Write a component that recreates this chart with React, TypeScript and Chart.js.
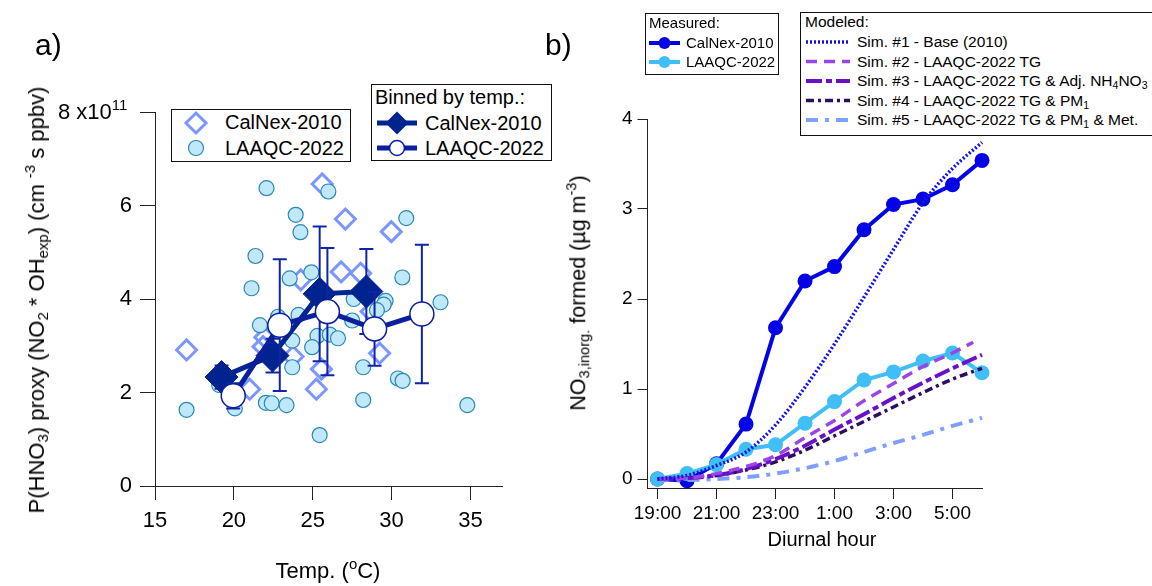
import React, { useEffect, useRef } from "react";
import { Chart, registerables } from "chart.js";

Chart.register(...registerables);

const FONT = '"Liberation Sans", Arial, Helvetica, sans-serif';

// ---------------- Panel a) data ----------------
const tempTicks = [15, 20, 25, 30, 35];
const proxyTicks = [0, 2, 4, 6, 8];

// LAAQC-2022 individual points (temp °C, proxy x1e11)
const laaqcTemp = [22.07, 25.99, 23.92, 30.93, 24.22, 21.37, 30.68, 24.91, 23.54, 21.12, 33.1, 29.62, 29.5, 27.6, 29.07, 24.1, 22.8, 21.65, 27.5, 25.3, 26.08, 26.6, 23.7, 24.96, 23.7, 28.2, 30.4, 30.7, 17.0, 20.06, 22.03, 22.4, 23.34, 28.2, 34.8, 25.44, 19.07];
const laaqcProxy = [6.37, 6.3, 5.8, 5.73, 5.43, 4.92, 4.46, 4.57, 4.44, 4.23, 3.93, 3.96, 3.88, 4.0, 3.76, 3.66, 3.62, 3.44, 3.54, 3.21, 3.24, 3.16, 3.11, 2.97, 2.54, 2.54, 2.3, 2.25, 1.63, 1.66, 1.78, 1.77, 1.73, 1.84, 1.73, 1.09, 2.16];

// CalNex-2010 individual points
const calnexTemp = [25.6, 27.07, 29.98, 26.8, 28.04, 24.24, 17.0, 21.96, 21.85, 23.75, 29.24, 25.55, 25.23, 21.0, 28.7];
const calnexProxy = [6.46, 5.71, 5.44, 4.58, 4.55, 4.41, 2.91, 3.18, 2.98, 2.77, 2.84, 2.5, 2.07, 2.07, 3.73];

// Binned by temperature
const binCalnexTemp = [19.22, 22.45, 25.44, 28.4];
const binCalnexProxy = [2.33, 2.79, 4.11, 4.16];
const binCalnexErr = [0.25, 0.36, 1.44, 0.91];
const binLaaqcTemp = [19.96, 22.91, 25.93, 28.92, 31.92];
const binLaaqcProxy = [1.93, 3.44, 3.73, 3.36, 3.68];
const binLaaqcErr = [0.27, 1.41, 1.36, 0.79, 1.48];

// ---------------- Panel b) data ----------------
const hours = [19, 20, 21, 22, 23, 24, 25, 26, 27, 28, 29, 30];
const hourTicks = [19, 21, 23, 25, 27, 29];
const hourTickLabels = ["19:00", "21:00", "23:00", "1:00", "3:00", "5:00"];
const no3Ticks = [0, 1, 2, 3, 4];

const calnexNO3 = [0, -0.02, 0.17, 0.61, 1.68, 2.2, 2.36, 2.77, 3.05, 3.11, 3.27, 3.54];
const laaqcNO3 = [0, 0.06, 0.16, 0.33, 0.38, 0.62, 0.86, 1.1, 1.19, 1.31, 1.4, 1.18];
const sim1NO3 = [0, 0.04, 0.15, 0.3, 0.6, 1.02, 1.5, 2.02, 2.55, 3.07, 3.45, 3.74];
const sim2Hours = [19, 20, 21, 22, 23, 24, 25, 26, 27, 28, 29, 29.7];
const sim2NO3 = [0, 0.01, 0.06, 0.14, 0.26, 0.46, 0.65, 0.87, 1.06, 1.25, 1.4, 1.52];
const sim3NO3 = [0, 0.01, 0.04, 0.11, 0.22, 0.37, 0.55, 0.72, 0.9, 1.07, 1.23, 1.38];
const sim4NO3 = [0, 0.01, 0.04, 0.1, 0.19, 0.32, 0.48, 0.64, 0.8, 0.96, 1.11, 1.23];
const sim5NO3 = [0, -0.01, 0, 0.02, 0.06, 0.12, 0.2, 0.3, 0.4, 0.49, 0.59, 0.68];

// ---------------- styles ----------------
const C_CALNEX_PT = "#7C96FF";
const C_LAAQC_FILL = "#BFE8FA";
const C_LAAQC_EDGE = "#2A88B2";
const C_BIN_CALNEX = "#00248F";
const C_BIN_LAAQC = "#0A1E9E";
const C_MEAS_CALNEX = "#0303E6";
const C_MEAS_LAAQC = "#40BFF7";
const SIMS = [
  { c: "#1515E0", w: 3.5, dash: [2, 2] },
  { c: "#9A45E6", w: 3.5, dash: [11, 7] },
  { c: "#6A10C8", w: 4, dash: [16, 4, 6, 4] },
  { c: "#2E0D60", w: 3.5, dash: [8, 4, 3, 4] },
  { c: "#7F9FFF", w: 4, dash: [12, 7, 4, 7] },
];

const pts = (xs: number[], ys: number[]) => xs.map((x, i) => ({ x, y: ys[i] }));

const errorBarPlugin = {
  id: "errbars",
  beforeDatasetDraw(chart: any, args: any) {
    const ds = chart.data.datasets[args.index];
    if (!ds.errors) return;
    const ctx = chart.ctx;
    const xs = chart.scales.x;
    const ys = chart.scales.y;
    ctx.save();
    ctx.strokeStyle = ds.errorColor;
    ctx.lineWidth = 2;
    ds.data.forEach((p: any, i: number) => {
      const e = ds.errors[i];
      if (!e) return;
      const x = xs.getPixelForValue(p.x);
      const y1 = ys.getPixelForValue(p.y + e);
      const y2 = ys.getPixelForValue(p.y - e);
      ctx.beginPath();
      ctx.moveTo(x, y1);
      ctx.lineTo(x, y2);
      ctx.moveTo(x - 7, y1);
      ctx.lineTo(x + 7, y1);
      ctx.moveTo(x - 7, y2);
      ctx.lineTo(x + 7, y2);
      ctx.stroke();
    });
    ctx.restore();
  },
};

function axis(min: number, max: number, ticks: number[], labelFn: (v: number) => string, o: any) {
  return {
    type: "linear",
    min,
    max,
    afterBuildTicks: (s: any) => {
      s.ticks = ticks.map((v) => ({ value: v }));
    },
    afterFit: (s: any) => {
      if (o.width !== undefined) s.width = o.width;
      if (o.height !== undefined) s.height = o.height;
    },
    grid: { drawOnChartArea: false, drawTicks: true, tickLength: o.tickLength, tickColor: "#222", tickWidth: 1 },
    border: { display: true, color: "#222", width: 1 },
    ticks: {
      color: "#000",
      font: { family: FONT, size: o.size },
      padding: o.padding,
      maxRotation: 0,
      autoSkip: false,
      callback: (v: any) => labelFn(Number(v)),
    },
  };
}

function configA(): any {
  return {
    type: "scatter",
    data: {
      datasets: [
        {
          data: pts(binLaaqcTemp, binLaaqcProxy),
          errors: binLaaqcErr,
          errorColor: "#1024A8",
          showLine: true,
          borderColor: C_BIN_LAAQC,
          borderWidth: 5,
          pointStyle: "circle",
          pointRadius: 12,
          pointBackgroundColor: "#ffffff",
          pointBorderColor: C_BIN_LAAQC,
          pointBorderWidth: 1.5,
          clip: false,
        },
        {
          data: pts(binCalnexTemp, binCalnexProxy),
          errors: binCalnexErr,
          errorColor: "#1024A8",
          showLine: true,
          borderColor: C_BIN_CALNEX,
          borderWidth: 5,
          pointStyle: "rectRot",
          pointRadius: 16.5,
          pointBackgroundColor: C_BIN_CALNEX,
          pointBorderColor: C_BIN_CALNEX,
          pointBorderWidth: 1,
          clip: false,
        },
        {
          data: pts(laaqcTemp, laaqcProxy),
          showLine: false,
          pointStyle: "circle",
          pointRadius: 7.5,
          pointBackgroundColor: C_LAAQC_FILL,
          pointBorderColor: C_LAAQC_EDGE,
          pointBorderWidth: 1.2,
          clip: false,
        },
        {
          data: pts(calnexTemp, calnexProxy),
          showLine: false,
          pointStyle: "rectRot",
          pointRadius: 10,
          pointBackgroundColor: "rgba(0,0,0,0)",
          pointBorderColor: C_CALNEX_PT,
          pointBorderWidth: 3,
          clip: false,
        },
      ],
    },
    options: {
      responsive: false,
      animation: false,
      events: [],
      devicePixelRatio: 1,
      layout: { padding: { left: 95, right: 58, top: 112, bottom: 50 } },
      plugins: { legend: { display: false }, tooltip: { enabled: false }, title: { display: false } },
      scales: {
        x: axis(15, 37, tempTicks, (v) => String(v), { height: 50, tickLength: 14, size: 22, padding: 8 }),
        y: axis(0, 8, proxyTicks, (v) => (v === 8 ? "" : String(v)), { width: 60, tickLength: 15, size: 22, padding: 8 }),
      },
    },
    plugins: [errorBarPlugin],
  };
}

function configB(): any {
  const sims = [sim1NO3, sim2NO3, sim3NO3, sim4NO3, sim5NO3];
  const simSets = sims.map((arr, i) => ({
    data: pts(i === 1 ? sim2Hours : hours, arr),
    showLine: true,
    borderColor: SIMS[i].c,
    borderWidth: SIMS[i].w,
    borderDash: SIMS[i].dash,
    borderCapStyle: "butt",
    cubicInterpolationMode: "monotone",
    pointRadius: 0,
    clip: false,
  }));
  return {
    type: "scatter",
    data: {
      datasets: [
        ...simSets,
        {
          data: pts(hours, laaqcNO3),
          showLine: true,
          borderColor: C_MEAS_LAAQC,
          borderWidth: 4,
          pointRadius: 7.5,
          pointBackgroundColor: C_MEAS_LAAQC,
          pointBorderColor: C_MEAS_LAAQC,
          pointBorderWidth: 0,
          clip: false,
        },
        {
          data: pts(hours, calnexNO3),
          showLine: true,
          borderColor: C_MEAS_CALNEX,
          borderWidth: 4,
          pointRadius: 7.5,
          pointBackgroundColor: C_MEAS_CALNEX,
          pointBorderColor: C_MEAS_CALNEX,
          pointBorderWidth: 0,
          clip: false,
        },
      ],
    },
    options: {
      responsive: false,
      animation: false,
      events: [],
      devicePixelRatio: 1,
      layout: { padding: { left: 27.5, right: 170, top: 119, bottom: 58 } },
      plugins: { legend: { display: false }, tooltip: { enabled: false }, title: { display: false } },
      scales: {
        x: axis(18.66, 30, hourTicks, (v) => hourTickLabels[hourTicks.indexOf(v)] ?? "", { height: 40, tickLength: 11, size: 19, padding: 3 }),
        y: axis(-0.1, 4, no3Ticks, (v) => String(v), { width: 60, tickLength: 10, size: 19, padding: 5 }),
      },
    },
  };
}

const Sub = ({ children }: any) => (
  <span style={{ fontSize: "0.68em", verticalAlign: "-0.28em", lineHeight: 0 }}>{children}</span>
);
const Sup = ({ children }: any) => (
  <span style={{ fontSize: "0.68em", verticalAlign: "0.62em", lineHeight: 0 }}>{children}</span>
);

function Txt({ x, y, size, align = "left", children }: any) {
  const tx = align === "center" ? "-50%" : align === "right" ? "-100%" : "0";
  return (
    <div
      style={{
        position: "absolute",
        left: x,
        top: y - 0.8465 * size,
        fontSize: size,
        lineHeight: `${size}px`,
        whiteSpace: "nowrap",
        transform: `translateX(${tx})`,
      }}
    >
      {children}
    </div>
  );
}

function VTxt({ cx, cy, size, children }: any) {
  return (
    <div
      style={{
        position: "absolute",
        left: cx,
        top: cy,
        fontSize: size,
        lineHeight: `${size}px`,
        whiteSpace: "nowrap",
        transform: "translate(-50%,-50%) rotate(-90deg)",
      }}
    >
      {children}
    </div>
  );
}

function Box({ x, y, w, h }: any) {
  return (
    <div
      style={{
        position: "absolute",
        left: x,
        top: y,
        width: w,
        height: h,
        border: "1px solid #111",
        background: "#fff",
        boxSizing: "border-box",
      }}
    />
  );
}

export default function App() {
  const refA = useRef<HTMLCanvasElement>(null);
  const refB = useRef<HTMLCanvasElement>(null);

  useEffect(() => {
    document.body.style.margin = "0";
    const a = new Chart(refA.current as HTMLCanvasElement, configA());
    const b = new Chart(refB.current as HTMLCanvasElement, configB());
    return () => {
      a.destroy();
      b.destroy();
    };
  }, []);

  const simRowY = [42, 61.5, 81, 100.5, 120];

  return (
    <div
      style={{
        position: "fixed",
        left: 0,
        top: 0,
        width: 1152,
        height: 586,
        overflow: "hidden",
        background: "#fff",
        fontFamily: FONT,
        color: "#000",
      }}
    >
      <canvas ref={refA} width={560} height={586} style={{ position: "absolute", left: 0, top: 0, width: 560, height: 586 }} />
      <canvas ref={refB} width={592} height={586} style={{ position: "absolute", left: 560, top: 0, width: 592, height: 586 }} />

      {/* panel labels */}
      <Txt x={35} y={55} size={30}>a)</Txt>
      <Txt x={545} y={55} size={30}>b)</Txt>

      {/* panel a axis texts */}
      <Txt x={58} y={120} size={22}>
        8 x10<Sup>11</Sup>
      </Txt>
      <VTxt cx={37} cy={300} size={22}>
        P(HNO<Sub>3</Sub>) proxy (NO<Sub>2</Sub> * OH<Sub>exp</Sub>) (cm <Sup>-3</Sup> s ppbv)
      </VTxt>
      <Txt x={328} y={579} size={22} align="center">
        Temp. (<Sup>o</Sup>C)
      </Txt>

      {/* panel a legend 1 */}
      <Box x={171} y={109} w={180} h={53} />
      <svg style={{ position: "absolute", left: 0, top: 0, overflow: "visible" }} width={1} height={1}>
        <polygon points="196,113 206,123 196,133 186,123" fill="none" stroke={C_CALNEX_PT} strokeWidth={3} />
        <circle cx={196} cy={148} r={7.5} fill={C_LAAQC_FILL} stroke={C_LAAQC_EDGE} strokeWidth={1.2} />
      </svg>
      <Txt x={225} y={129} size={20}>CalNex-2010</Txt>
      <Txt x={225} y={155} size={20}>LAAQC-2022</Txt>

      {/* panel a legend 2 */}
      <Box x={371} y={84} w={181} h={77} />
      <Txt x={375} y={104} size={20}>Binned by temp.:</Txt>
      <svg style={{ position: "absolute", left: 0, top: 0, overflow: "visible" }} width={1} height={1}>
        <line x1={377} y1={123} x2={417} y2={123} stroke={C_BIN_CALNEX} strokeWidth={5} />
        <polygon points="397,111.5 408.5,123 397,134.5 385.5,123" fill={C_BIN_CALNEX} />
        <line x1={377} y1={148} x2={417} y2={148} stroke={C_BIN_LAAQC} strokeWidth={5} />
        <circle cx={397} cy={148} r={7.5} fill="#fff" stroke={C_BIN_LAAQC} strokeWidth={1.5} />
      </svg>
      <Txt x={425} y={130} size={20}>CalNex-2010</Txt>
      <Txt x={425} y={155} size={20}>LAAQC-2022</Txt>

      {/* panel b axis texts */}
      <VTxt cx={579} cy={293} size={21.5}>
        NO<Sub>3,inorg.</Sub> formed (µg m<Sup>-3</Sup>)
      </VTxt>
      <Txt x={822} y={546} size={20} align="center">Diurnal hour</Txt>

      {/* panel b legend: measured */}
      <Box x={645} y={13} w={134} h={62} />
      <Txt x={649} y={28} size={15}>Measured:</Txt>
      <svg style={{ position: "absolute", left: 0, top: 0, overflow: "visible" }} width={1} height={1}>
        <line x1={649} y1={43} x2={680} y2={43} stroke={C_MEAS_CALNEX} strokeWidth={4} />
        <circle cx={664.5} cy={43} r={6} fill={C_MEAS_CALNEX} />
        <line x1={649} y1={62} x2={680} y2={62} stroke={C_MEAS_LAAQC} strokeWidth={4} />
        <circle cx={664.5} cy={62} r={6} fill={C_MEAS_LAAQC} />
      </svg>
      <Txt x={686} y={48} size={15}>CalNex-2010</Txt>
      <Txt x={686} y={67} size={15}>LAAQC-2022</Txt>

      {/* panel b legend: modeled */}
      <Box x={800} y={12} w={400} h={124} />
      <Txt x={805} y={27} size={15.5}>Modeled:</Txt>
      <svg style={{ position: "absolute", left: 0, top: 0, overflow: "visible" }} width={1} height={1}>
        {SIMS.map((s, i) => (
          <line key={i} x1={806} y1={simRowY[i]} x2={850} y2={simRowY[i]} stroke={s.c} strokeWidth={s.w} strokeDasharray={s.dash.join(" ")} />
        ))}
      </svg>
      <Txt x={857} y={simRowY[0] + 5.5} size={15.5}>Sim. #1 - Base (2010)</Txt>
      <Txt x={857} y={simRowY[1] + 5.5} size={15.5}>Sim. #2 - LAAQC-2022 TG</Txt>
      <Txt x={857} y={simRowY[2] + 5.5} size={15.5}>
        Sim. #3 - LAAQC-2022 TG &amp; Adj. NH<Sub>4</Sub>NO<Sub>3</Sub>
      </Txt>
      <Txt x={857} y={simRowY[3] + 5.5} size={15.5}>
        Sim. #4 - LAAQC-2022 TG &amp; PM<Sub>1</Sub>
      </Txt>
      <Txt x={857} y={simRowY[4] + 5.5} size={15.5}>
        Sim. #5 - LAAQC-2022 TG &amp; PM<Sub>1</Sub> &amp; Met.
      </Txt>
    </div>
  );
}
